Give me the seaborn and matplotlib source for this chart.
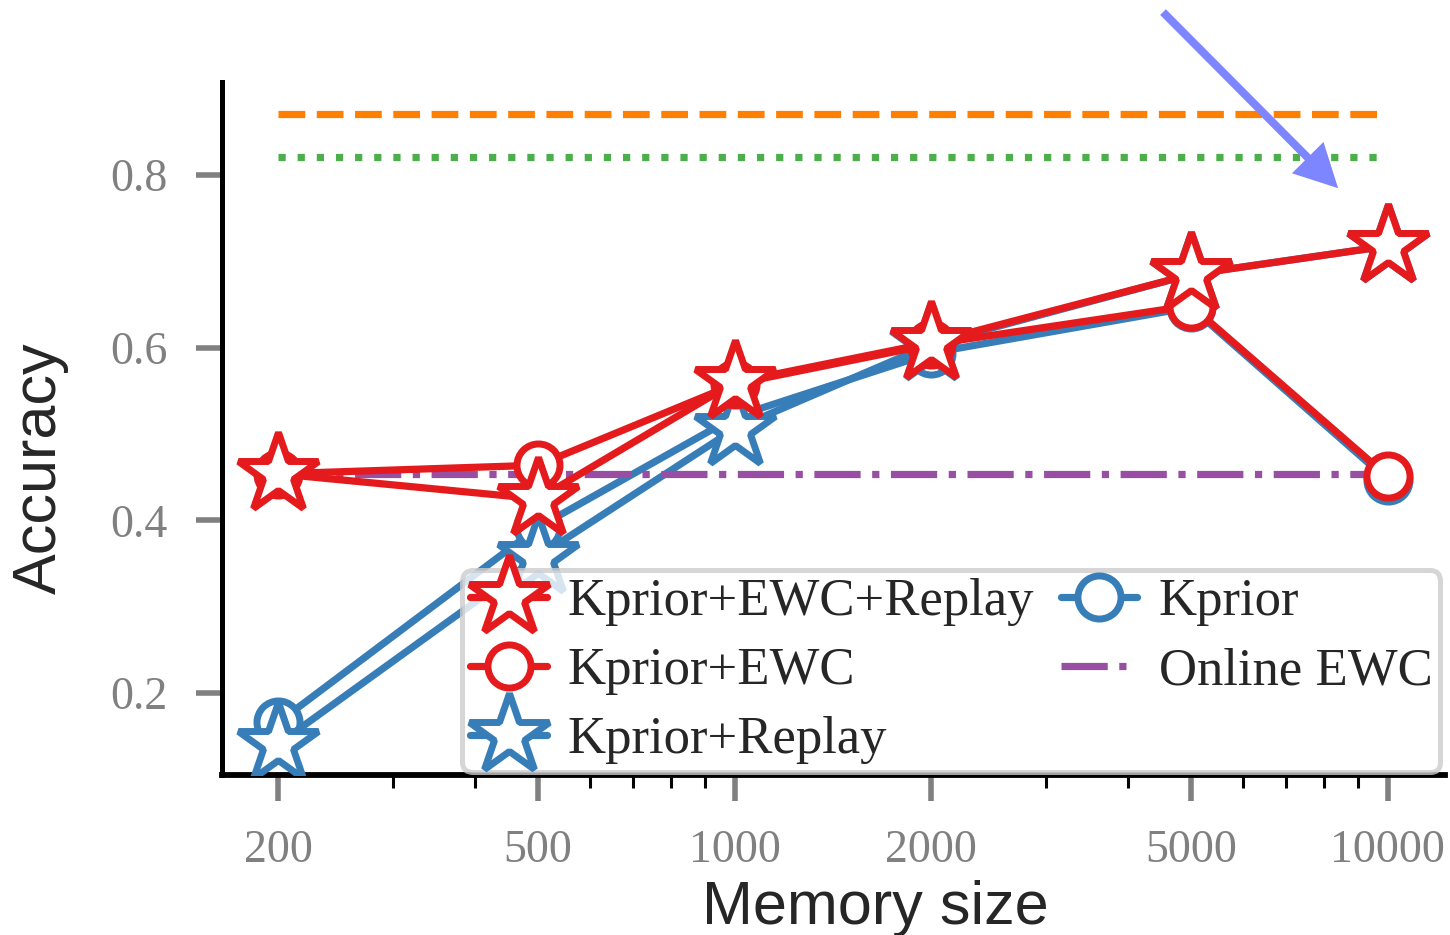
import matplotlib
matplotlib.use("Agg")
import matplotlib.pyplot as plt
import seaborn as sns
import pandas as pd
from matplotlib.ticker import FixedLocator, FixedFormatter, LogLocator, NullFormatter, NullLocator

# ---------------- data ----------------
memory_sizes = [200, 500, 1000, 2000, 5000, 10000]
kprior = [0.166, 0.392, 0.520, 0.594, 0.647, 0.447]
kprior_replay = [0.141, 0.358, 0.506, 0.604, 0.685, 0.718]
kprior_ewc = [0.454, 0.464, 0.558, 0.604, 0.649, 0.451]
kprior_ewc_replay = [0.454, 0.425, 0.560, 0.606, 0.685, 0.718]
online_ewc = [0.454, 0.454, 0.454, 0.454, 0.454, 0.454]
ref_dashed = [0.871, 0.871, 0.871, 0.871, 0.871, 0.871]
ref_dotted = [0.821, 0.821, 0.821, 0.821, 0.821, 0.821]

x_tick_values = [200, 500, 1000, 2000, 5000, 10000]
x_tick_labels = ["200", "500", "1000", "2000", "5000", "10000"]
y_tick_values = [0.2, 0.4, 0.6, 0.8]
y_tick_labels = ["0.2", "0.4", "0.6", "0.8"]

RED = "#e41a1c"
BLUE = "#377eb8"
GREEN = "#4daf4a"
PURPLE = "#984ea3"
ORANGE = "#ff7f00"
ARROW = "#7d85ff"

sns.set_theme(style="ticks")
plt.rcParams["font.family"] = ["Liberation Serif", "DejaVu Serif"]

fig = plt.figure(figsize=(14.5, 9.35), dpi=100)
ax = fig.add_axes([0.1531, 0.1711, 0.8435, 0.7412])

LW = 5.2
STAR_MS = 61
CIRC_MS = 31
MEW = 5.0

def draw(y, color, marker, ms, label, z, ls="-"):
    df = pd.DataFrame({"Memory size": memory_sizes, "Accuracy": y})
    kw = dict(color=color, linewidth=LW, linestyle=ls, zorder=z, label=label, ax=ax)
    if marker is not None:
        kw.update(marker=marker, markersize=ms, markerfacecolor="white",
                  markeredgecolor=color, markeredgewidth=MEW)
    sns.lineplot(data=df, x="Memory size", y="Accuracy", **kw)

draw(ref_dashed, ORANGE, None, 0, "_ref1", 2, "--")
draw(ref_dotted, GREEN, None, 0, "_ref2", 2, ":")
draw(kprior, BLUE, "o", CIRC_MS, "Kprior", 3)
draw(kprior_replay, BLUE, "*", STAR_MS, "Kprior+Replay", 3.1)
draw(online_ewc, PURPLE, None, 0, "Online EWC", 3.2, "-.")
draw(kprior_ewc, RED, "o", CIRC_MS, "Kprior+EWC", 3.3)
draw(kprior_ewc_replay, RED, "*", STAR_MS, "Kprior+EWC+Replay", 3.4)

ax.set_xscale("log")
ax.set_xlim(164, 12250)
ax.set_ylim(0.105, 0.908)

ax.xaxis.set_major_locator(FixedLocator(x_tick_values))
ax.xaxis.set_major_formatter(FixedFormatter(x_tick_labels))
ax.xaxis.set_minor_locator(LogLocator(base=10, subs=range(2, 10)))
ax.xaxis.set_minor_formatter(NullFormatter())
ax.yaxis.set_major_locator(FixedLocator(y_tick_values))
ax.yaxis.set_major_formatter(FixedFormatter(y_tick_labels))
ax.yaxis.set_minor_locator(NullLocator())

ax.tick_params(axis="both", which="major", length=19, width=4, color="#808080",
               labelcolor="#808080", labelsize=33, pad=20)
ax.tick_params(axis="x", which="minor", length=9, width=2.2, color="black")

for s in ["top", "right"]:
    ax.spines[s].set_visible(False)
ax.spines["left"].set_linewidth(3.6)
ax.spines["bottom"].set_linewidth(4.2)
ax.spines["left"].set_color("black")
ax.spines["bottom"].set_color("black")

ax.set_xlabel("Memory size", fontsize=44, family=["Liberation Sans", "DejaVu Sans"])
ax.set_ylabel("Accuracy", fontsize=44, family=["Liberation Sans", "DejaVu Sans"])
ax.xaxis.set_label_coords(0.534, -0.152)
ax.yaxis.set_label_coords(-0.125, 0.443)

# legend
handles, labels = ax.get_legend_handles_labels()
hmap = dict(zip(labels, handles))
order = ["Kprior+EWC+Replay", "Kprior+EWC", "Kprior+Replay", "Kprior", "Online EWC"]
leg = ax.legend([hmap[k] for k in order], order, ncol=2, loc="lower right",
                bbox_to_anchor=(0.996, 0.004), fontsize=38, handlelength=1.45,
                handletextpad=0.4, columnspacing=0.5, labelspacing=0.4,
                borderpad=0.15, borderaxespad=0, framealpha=0.8, edgecolor="0.8",
                fancybox=True)
leg.get_frame().set_linewidth(3.6)
leg.set_zorder(10)

# arrow
ax.annotate("", xy=(8400, 0.785), xytext=(4530, 0.989), xycoords="data",
            textcoords="data",
            arrowprops=dict(facecolor=ARROW, edgecolor="none", width=5.8,
                            headwidth=32, headlength=31, shrink=0),
            annotation_clip=False)

fig.savefig("out.png", dpi=100)
